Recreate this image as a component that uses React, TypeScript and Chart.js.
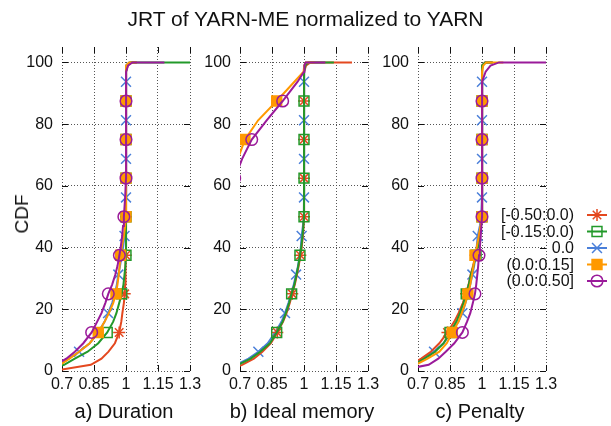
import React, { useEffect, useRef } from 'react';
import { Chart, registerables } from 'chart.js';

Chart.register(...registerables);

const FONT = '"Liberation Sans", Arial, Helvetica, sans-serif';
Chart.defaults.font.family = FONT;

// ---------- texts ----------
const chartTitle = 'JRT of YARN-ME normalized to YARN';
const yAxisTitle = 'CDF';
const panelTitles = ['a) Duration', 'b) Ideal memory', 'c) Penalty'];
const seriesLabels = ['[-0.50:0.0)', '[-0.15:0.0)', '0.0', '(0.0:0.15]', '(0.0:0.50]'];

// ---------- ticks ----------
const xTickValues = [0.7, 0.85, 1, 1.15, 1.3];
const xTickLabels = ['0.7', '0.85', '1', '1.15', '1.3'];
const yTickValues = [0, 20, 40, 60, 80, 100];
const yTickLabels = ['0', '20', '40', '60', '80', '100'];

// ---------- data: CDF level (%) -> normalized JRT value (x) ----------
const cdfLevels = [0, 2, 4, 6.25, 9, 12.5, 16, 18.75, 22, 25, 28, 31.25, 34, 37.5, 40, 43.75, 47, 50,
  56.25, 62.5, 68.75, 75, 81.25, 87.5, 93.75, 97, 99, 100, 100];

const markerLevelsA = [12.5, 25, 37.5, 50, 62.5, 75, 87.5];
const markerLevelsB = [6.25, 18.75, 31.25, 43.75, 56.25, 68.75, 81.25, 93.75];

// a) Duration
const durationNeg50 = [0.66, 0.835, 0.885, 0.918, 0.948, 0.968, 0.978, 0.983, 0.99, 0.994, 0.996, 0.997, 0.998, 0.999, 1.0, 1.0, 1.0, 1.0,
  1.0, 1.0, 1.0, 1.0, 1.0, 1.0, 1.0, 1.002, 1.008, 1.025, 1.05];
const durationNeg15 = [0.6, 0.71, 0.76, 0.82, 0.87, 0.912, 0.94, 0.955, 0.968, 0.98, 0.988, 0.993, 0.997, 1.0, 1.0, 1.0, 1.0, 1.0,
  1.0, 1.0, 1.0, 1.0, 1.0, 1.0, 1.0, 1.002, 1.005, 1.02, 1.3];
const durationZero = [0.58, 0.69, 0.73, 0.78, 0.83, 0.87, 0.9, 0.916, 0.935, 0.948, 0.957, 0.964, 0.972, 0.98, 0.986, 0.993, 0.997, 0.999,
  1.0, 1.0, 1.0, 1.0, 1.0, 1.0, 1.0, 1.001, 1.004, 1.015, 1.05];
const durationPos15 = [0.62, 0.69, 0.735, 0.78, 0.83, 0.87, 0.9, 0.92, 0.94, 0.953, 0.96, 0.966, 0.97, 0.975, 0.98, 0.99, 0.996, 1.0,
  1.0, 1.0, 1.0, 1.0, 1.0, 1.0, 1.0, 1.001, 1.003, 1.015, 1.05];
const durationPos50 = [0.6, 0.67, 0.72, 0.76, 0.8, 0.839, 0.865, 0.885, 0.903, 0.917, 0.935, 0.95, 0.96, 0.969, 0.975, 0.982, 0.986, 0.99,
  0.996, 1.0, 1.0, 1.0, 1.0, 1.0, 1.0, 1.002, 1.01, 1.03, 1.18];

// b) Ideal memory
const memoryNeg50 = [0.63, 0.71, 0.765, 0.805, 0.845, 0.875, 0.902, 0.918, 0.933, 0.945, 0.957, 0.967, 0.975, 0.983, 0.989, 0.995, 0.998, 1.0,
  1.0, 1.0, 1.0, 1.0, 1.0, 1.0, 1.0, 1.003, 1.01, 1.03, 1.225];
const memoryNeg15 = [0.6, 0.69, 0.75, 0.795, 0.84, 0.872, 0.9, 0.915, 0.93, 0.942, 0.955, 0.965, 0.973, 0.981, 0.987, 0.993, 0.997, 1.0,
  1.0, 1.0, 1.0, 1.0, 1.0, 1.0, 1.0, 1.002, 1.006, 1.02, 1.14];
const memoryZero = [0.58, 0.68, 0.74, 0.786, 0.83, 0.865, 0.895, 0.911, 0.927, 0.94, 0.952, 0.963, 0.972, 0.98, 0.985, 0.989, 0.995, 0.999,
  1.0, 1.0, 1.0, 1.0, 1.0, 1.0, 1.0, 1.001, 1.004, 1.01, 1.05];
const memoryPos15 = [null, null, null, null, null, null, null, null, null, null, null, null, null, null, null, null, null, null,
  null, 0.64, 0.69, 0.723, 0.785, 0.872, 0.955, 0.998, 1.001, 1.008, 1.05];
const memoryPos50 = [null, null, null, null, null, null, null, null, null, null, null, null, null, null, null, null, null, null,
  null, 0.675, 0.71, 0.755, 0.825, 0.9, 0.97, 1.0, 1.002, 1.008, 1.1];

// c) Penalty
const penaltyNeg50 = [0.57, 0.66, 0.715, 0.76, 0.8, 0.838, 0.87, 0.89, 0.91, 0.925, 0.937, 0.947, 0.958, 0.97, 0.978, 0.988, 0.995, 1.0,
  1.0, 1.0, 1.0, 1.0, 1.0, 1.0, 1.0, 1.001, 1.004, 1.015, 1.05];
const penaltyNeg15 = [0.6, 0.68, 0.73, 0.78, 0.82, 0.85, 0.88, 0.897, 0.913, 0.926, 0.938, 0.948, 0.96, 0.972, 0.98, 0.99, 0.996, 1.0,
  1.0, 1.0, 1.0, 1.0, 1.0, 1.0, 1.0, 1.001, 1.004, 1.015, 1.05];
const penaltyZero = [0.58, 0.67, 0.72, 0.775, 0.82, 0.855, 0.89, 0.908, 0.922, 0.935, 0.945, 0.955, 0.963, 0.97, 0.975, 0.98, 0.99, 0.996,
  1.0, 1.0, 1.0, 1.0, 1.0, 1.0, 1.0, 1.001, 1.004, 1.015, 1.05];
const penaltyPos15 = [0.62, 0.69, 0.745, 0.8, 0.835, 0.861, 0.89, 0.905, 0.922, 0.934, 0.945, 0.953, 0.96, 0.967, 0.975, 0.985, 0.993, 1.0,
  1.0, 1.0, 1.0, 1.0, 1.0, 1.0, 1.0, 1.002, 1.006, 1.02, 1.1];
const penaltyPos50 = [0.6, 0.75, 0.795, 0.83, 0.87, 0.908, 0.93, 0.945, 0.957, 0.967, 0.973, 0.978, 0.982, 0.986, 0.99, 0.994, 0.997, 1.0,
  1.0, 1.0, 1.0, 1.0, 1.0, 1.0, 1.003, 1.017, 1.04, 1.08, 1.3];

const panelSeries = [
  [durationNeg50, durationNeg15, durationZero, durationPos15, durationPos50],
  [memoryNeg50, memoryNeg15, memoryZero, memoryPos15, memoryPos50],
  [penaltyNeg50, penaltyNeg15, penaltyZero, penaltyPos15, penaltyPos50],
];

// ---------- styles ----------
const colors = ['#e4481f', '#22992a', '#4a7fd9', '#ff9900', '#9a1a9a'];
const pointStyles = ['star', 'rect', 'crossRot', 'rect', 'circle'];
const pointRadii = [6, 7, 7, 7, 5.8];
const pointFills = ['rgba(0,0,0,0)', 'rgba(0,0,0,0)', 'rgba(0,0,0,0)', '#ff9900', 'rgba(0,0,0,0)'];
const markerSets = [markerLevelsA, markerLevelsA, markerLevelsB, markerLevelsA, markerLevelsA];
const drawOrder = [3, 2, 4, 1, 0];

const W = 611;
const H = 426;
const panelLeft = [62, 240, 418];
const panelRight = [190, 368, 546];
const plotTop = 47;
const plotBottom = 371;
const yAxisW = 40;
const xAxisH = 30;

function drawMarker(ctx: CanvasRenderingContext2D, s: number, x: number, y: number) {
  const r = pointRadii[s];
  ctx.save();
  ctx.strokeStyle = colors[s];
  ctx.fillStyle = pointFills[s];
  ctx.lineWidth = 1.5;
  ctx.beginPath();
  const st = pointStyles[s];
  const d = r * Math.SQRT1_2;
  if (st === 'star') {
    ctx.moveTo(x - r, y); ctx.lineTo(x + r, y);
    ctx.moveTo(x, y - r); ctx.lineTo(x, y + r);
    ctx.moveTo(x - d, y - d); ctx.lineTo(x + d, y + d);
    ctx.moveTo(x + d, y - d); ctx.lineTo(x - d, y + d);
    ctx.stroke();
  } else if (st === 'crossRot') {
    ctx.moveTo(x - d, y - d); ctx.lineTo(x + d, y + d);
    ctx.moveTo(x + d, y - d); ctx.lineTo(x - d, y + d);
    ctx.stroke();
  } else if (st === 'rect') {
    ctx.rect(x - d, y - d, 2 * d, 2 * d);
    ctx.fill();
    ctx.stroke();
  } else {
    ctx.arc(x, y, r, 0, Math.PI * 2);
    ctx.fill();
    ctx.stroke();
  }
  ctx.restore();
}

const insideTicks = {
  id: 'insideTicks',
  beforeDatasetsDraw(chart: any) {
    const { ctx, chartArea: a, scales } = chart;
    ctx.save();
    ctx.strokeStyle = '#111';
    ctx.lineWidth = 1;
    ctx.beginPath();
    for (const v of xTickValues) {
      const px = Math.round(scales.x.getPixelForValue(v)) + 0.5;
      ctx.moveTo(px, a.bottom); ctx.lineTo(px, a.bottom - 6);
      ctx.moveTo(px, a.top); ctx.lineTo(px, a.top + 6);
    }
    for (const v of yTickValues) {
      const py = Math.round(scales.y.getPixelForValue(v)) + 0.5;
      ctx.moveTo(a.left, py); ctx.lineTo(a.left + 6, py);
      ctx.moveTo(a.right, py); ctx.lineTo(a.right - 6, py);
    }
    ctx.stroke();
    ctx.restore();
  },
};

const keyPlugin = {
  id: 'gnuKey',
  afterDatasetsDraw(chart: any) {
    const ctx: CanvasRenderingContext2D = chart.ctx;
    ctx.save();
    ctx.font = `16px ${FONT}`;
    ctx.textAlign = 'right';
    ctx.textBaseline = 'middle';
    ctx.fillStyle = '#111';
    seriesLabels.forEach((lab, s) => {
      const y = 215 + s * 16.5;
      ctx.fillText(lab, 574, y + 1);
      ctx.strokeStyle = colors[s];
      ctx.lineWidth = 2;
      ctx.beginPath();
      ctx.moveTo(587, y);
      ctx.lineTo(607, y);
      ctx.stroke();
      drawMarker(ctx, s, 597, y);
    });
    ctx.restore();
  },
};

function makeConfig(p: number): any {
  const datasets = panelSeries[p].map((xs, s) => {
    const pts: { x: number; y: number }[] = [];
    xs.forEach((x, i) => {
      if (x !== null) pts.push({ x: x as number, y: cdfLevels[i] });
    });
    return {
      label: seriesLabels[s],
      data: pts,
      borderColor: colors[s],
      backgroundColor: colors[s],
      borderWidth: 2,
      fill: false,
      tension: 0,
      clip: 0,
      order: drawOrder[s],
      pointStyle: pointStyles[s],
      pointBorderColor: colors[s],
      pointBackgroundColor: pointFills[s],
      pointBorderWidth: 1.5,
      pointRadius: (ctx: any) => {
        const raw = ctx.raw;
        return raw && markerSets[s].includes(raw.y) ? pointRadii[s] : 0;
      },
      pointHoverRadius: 0,
    };
  });
  const gridCommon = { color: '#555', lineWidth: 1, drawTicks: false };
  const borderCommon = { display: false, dash: [1, 2] };
  return {
    type: 'line',
    data: { datasets },
    options: {
      responsive: false,
      maintainAspectRatio: false,
      animation: false,
      events: [],
      layout: {
        padding: {
          left: panelLeft[p] - yAxisW,
          right: W - panelRight[p],
          top: plotTop,
          bottom: H - plotBottom - xAxisH,
        },
      },
      plugins: { legend: { display: false }, tooltip: { enabled: false }, title: { display: false } },
      scales: {
        x: {
          type: 'linear',
          min: 0.7,
          max: 1.3,
          grid: gridCommon,
          border: borderCommon,
          afterBuildTicks: (sc: any) => { sc.ticks = xTickValues.map((v) => ({ value: v })); },
          afterFit: (sc: any) => { sc.height = xAxisH; },
          ticks: {
            autoSkip: false,
            maxRotation: 0,
            minRotation: 0,
            padding: 4,
            color: '#111',
            font: { size: 16, family: FONT },
            callback: (_v: any, i: number) => xTickLabels[i],
          },
        },
        y: {
          type: 'linear',
          min: 0,
          max: 105,
          grid: gridCommon,
          border: borderCommon,
          afterBuildTicks: (sc: any) => { sc.ticks = yTickValues.map((v) => ({ value: v })); },
          afterFit: (sc: any) => { sc.width = yAxisW; },
          ticks: {
            padding: 9,
            color: '#111',
            font: { size: 16, family: FONT },
            callback: (_v: any, i: number) => yTickLabels[i],
          },
        },
      },
    },
    plugins: p === 2 ? [insideTicks, keyPlugin] : [insideTicks],
  };
}

export default function App() {
  const r0 = useRef<HTMLCanvasElement>(null);
  const r1 = useRef<HTMLCanvasElement>(null);
  const r2 = useRef<HTMLCanvasElement>(null);
  const refs = [r0, r1, r2];

  useEffect(() => {
    const charts = refs.map((r, p) => new Chart(r.current as HTMLCanvasElement, makeConfig(p)));
    return () => charts.forEach((c) => c.destroy());
  }, []);

  const canvasStyle: React.CSSProperties = { position: 'absolute', left: 0, top: 0, width: W, height: H };
  const panelCenters = panelLeft.map((l, i) => (l + panelRight[i]) / 2);

  return (
    <div style={{ position: 'absolute', left: 0, top: 0, width: W, height: H, background: '#fff', fontFamily: FONT, color: '#111' }}>
      {refs.map((r, i) => (
        <canvas key={i} ref={r} width={W} height={H} style={canvasStyle} />
      ))}
      <div style={{ position: 'absolute', left: 0, top: 6, width: W, textAlign: 'center', fontSize: 21, lineHeight: '26px' }}>
        {chartTitle}
      </div>
      <div
        style={{
          position: 'absolute', left: 22, top: 214, fontSize: 19, lineHeight: '22px', whiteSpace: 'nowrap',
          transform: 'translate(-50%, -50%) rotate(-90deg)',
        }}
      >
        {yAxisTitle}
      </div>
      {panelTitles.map((t, i) => (
        <div
          key={t}
          style={{
            position: 'absolute', left: panelCenters[i] - 2 - 100, top: 399, width: 200, textAlign: 'center',
            fontSize: 20, lineHeight: '24px', whiteSpace: 'nowrap',
          }}
        >
          {t}
        </div>
      ))}
    </div>
  );
}
